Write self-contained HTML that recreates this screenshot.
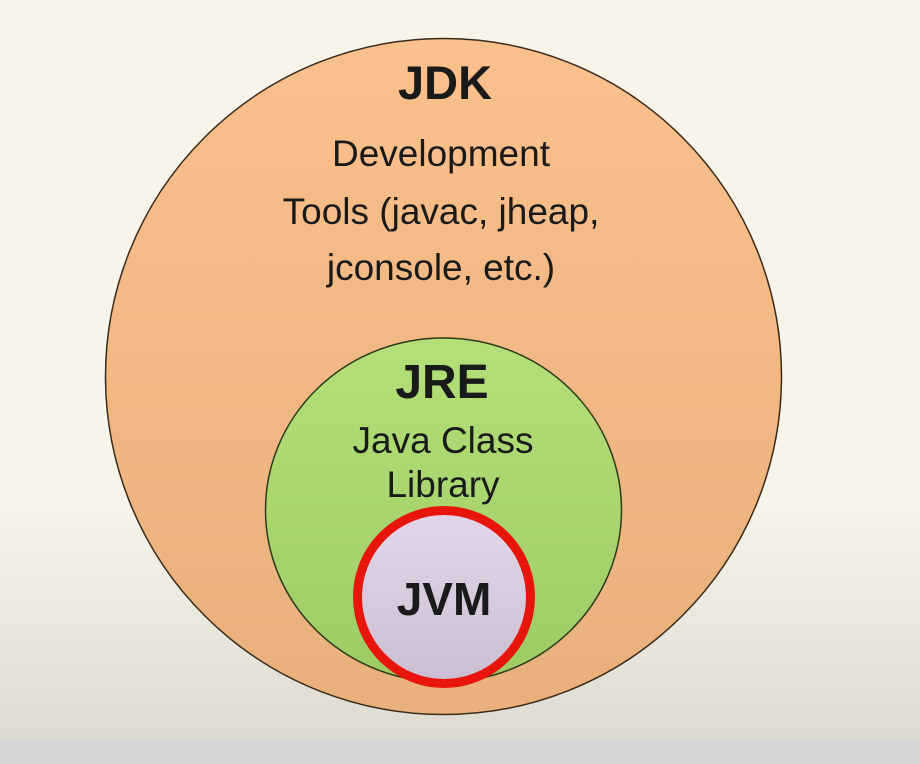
<!DOCTYPE html>
<html><head><style>
html,body{margin:0;padding:0;}
body{width:920px;height:764px;overflow:hidden;background:linear-gradient(#f8f4ea 0px,#f8f4ea 500px,#dddbd1 738px,#d6d6d6 738px,#d6d6d6 764px);}
</style></head><body>
<svg width="920" height="764" style="position:absolute;left:0;top:0">
<defs>
<linearGradient id="o" x1="0" y1="0" x2="0" y2="1"><stop offset="0" stop-color="#fbc08c"/><stop offset="1" stop-color="#e8b07a"/></linearGradient>
<linearGradient id="g" x1="0" y1="0" x2="0" y2="1"><stop offset="0" stop-color="#b5df78"/><stop offset="1" stop-color="#9ecb64"/></linearGradient>
<linearGradient id="p" x1="0" y1="0" x2="0" y2="1"><stop offset="0" stop-color="#e2d6e8"/><stop offset="1" stop-color="#cdbfd3"/></linearGradient>
</defs>
<circle cx="443.5" cy="376.5" r="338" fill="url(#o)" stroke="#3a2a1a" stroke-width="1.5"/>
<ellipse cx="443.5" cy="510" rx="178" ry="172" fill="url(#g)" stroke="#2a3a1a" stroke-width="1.5"/>
<circle cx="444" cy="597" r="86.5" fill="url(#p)" stroke="#e8150c" stroke-width="9"/>
<g font-family="Liberation Sans, sans-serif" fill="#1a1a1a" text-anchor="middle">
<text x="445" y="99" font-size="47" font-weight="bold">JDK</text>
<text x="441" y="166" font-size="37">Development</text>
<text x="441" y="224" font-size="37">Tools (javac, jheap,</text>
<text x="441" y="280" font-size="37">jconsole, etc.)</text>
<text x="442" y="398" font-size="48" font-weight="bold">JRE</text>
<text x="443" y="453" font-size="37">Java Class</text>
<text x="443" y="497" font-size="37">Library</text>
<text x="444" y="615" font-size="46" font-weight="bold">JVM</text>
</g>
</svg>
</body></html>
